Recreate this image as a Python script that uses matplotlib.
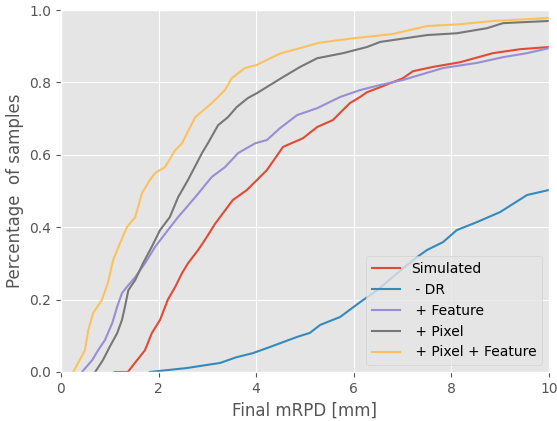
import matplotlib
matplotlib.use('Agg')
import matplotlib.pyplot as plt

plt.style.use('ggplot')

# curves (x in mm, y = fraction of samples)
sim_x = [1.10, 1.37, 1.56, 1.72, 1.86, 2.03, 2.19, 2.34, 2.48, 2.60, 2.81, 2.95, 3.16, 3.52, 3.81,
         4.22, 4.55, 4.96, 5.25, 5.57, 5.92, 6.13, 6.27, 6.54, 7.01, 7.21, 7.62, 8.18, 8.85, 9.41, 10.0]
sim_y = [0.0, 0.0, 0.033, 0.06, 0.107, 0.144, 0.20, 0.235, 0.273, 0.30, 0.337, 0.365, 0.41, 0.475, 0.503,
         0.558, 0.622, 0.646, 0.677, 0.696, 0.743, 0.760, 0.773, 0.787, 0.812, 0.831, 0.843, 0.856, 0.881, 0.892, 0.898]

dr_x = [1.82, 2.58, 3.26, 3.60, 3.93, 4.28, 4.84, 5.10, 5.31, 5.72, 6.13, 6.48, 6.89, 7.30, 7.50, 7.83,
        8.11, 8.52, 9.00, 9.55, 10.0]
dr_y = [0.0, 0.011, 0.025, 0.041, 0.052, 0.069, 0.097, 0.108, 0.13, 0.152, 0.193, 0.226, 0.273, 0.318, 0.337, 0.359,
        0.392, 0.414, 0.442, 0.489, 0.503]

feat_x = [0.43, 0.64, 0.76, 0.90, 1.05, 1.15, 1.25, 1.35, 1.52, 1.72, 1.93, 2.19, 2.40, 2.75, 3.09, 3.36,
          3.63, 3.98, 4.22, 4.49, 4.84, 5.25, 5.72, 6.13, 6.54, 7.01, 7.83, 8.52, 9.06, 9.55, 10.0]
feat_y = [0.0, 0.033, 0.06, 0.088, 0.135, 0.18, 0.218, 0.235, 0.262, 0.30, 0.346, 0.392, 0.428, 0.483, 0.539, 0.566,
          0.605, 0.632, 0.641, 0.674, 0.710, 0.729, 0.760, 0.779, 0.793, 0.807, 0.840, 0.854, 0.870, 0.881, 0.895]

pix_x = [0.70, 0.86, 1.00, 1.15, 1.25, 1.31, 1.38, 1.52, 1.68, 1.86, 2.03, 2.23, 2.40, 2.60, 2.89, 3.01,
         3.22, 3.42, 3.60, 3.83, 4.02, 4.55, 4.90, 5.25, 5.78, 6.27, 6.54, 7.50, 8.11, 8.73, 9.06, 10.0]
pix_y = [0.0, 0.033, 0.07, 0.107, 0.144, 0.18, 0.226, 0.254, 0.30, 0.346, 0.392, 0.428, 0.483, 0.53, 0.605, 0.632,
         0.682, 0.704, 0.732, 0.757, 0.771, 0.815, 0.843, 0.867, 0.881, 0.898, 0.912, 0.931, 0.936, 0.950, 0.964, 0.970]

pf_x = [0.25, 0.49, 0.56, 0.66, 0.84, 0.96, 1.07, 1.21, 1.35, 1.52, 1.66, 1.82, 1.93, 2.13, 2.34, 2.48,
        2.75, 3.09, 3.36, 3.50, 3.77, 4.00, 4.49, 4.90, 5.30, 5.98, 6.54, 6.80, 7.50, 8.18, 8.85, 10.0]
pf_y = [0.0, 0.06, 0.116, 0.163, 0.20, 0.246, 0.31, 0.356, 0.40, 0.428, 0.494, 0.53, 0.55, 0.566, 0.613, 0.632,
        0.704, 0.743, 0.779, 0.812, 0.84, 0.848, 0.88, 0.895, 0.91, 0.922, 0.93, 0.934, 0.956, 0.961, 0.97, 0.978]

fig = plt.figure(figsize=(5.57, 4.21), dpi=100)
ax = fig.add_subplot(1, 1, 1)
fig.subplots_adjust(left=0.1095, right=0.9856, top=0.976, bottom=0.1164)

ax.plot(sim_x, sim_y, label='Simulated')
ax.plot(dr_x, dr_y, label=' - DR')
ax.plot(feat_x, feat_y, label=' + Feature')
ax.plot(pix_x, pix_y, label=' + Pixel')
ax.plot(pf_x, pf_y, label=' + Pixel + Feature')

ax.set_xlim(0, 10)
ax.set_ylim(0, 1)
ax.set_xlabel('Final mRPD [mm]')
ax.set_ylabel('Percentage  of samples')
ax.legend(loc='lower right')

plt.savefig('out.png', dpi=100)
